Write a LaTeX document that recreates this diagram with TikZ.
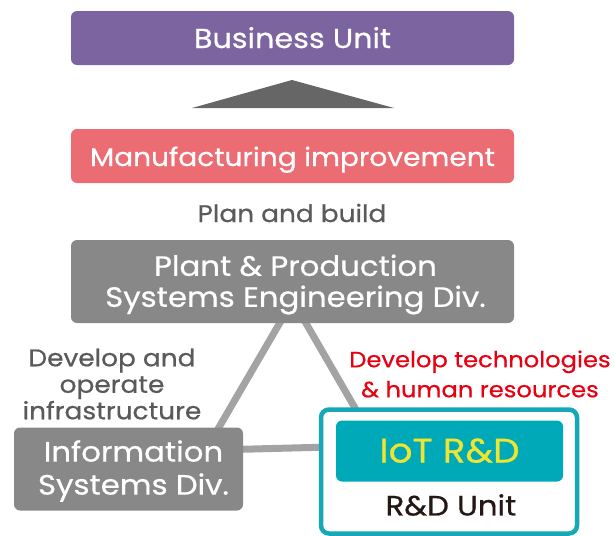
\documentclass[tikz,border=0pt]{standalone}
\usepackage{fontspec}
\setmainfont{Poppins}[FakeStretch=1.1, FakeBold=0.6]
\usetikzlibrary{calc}
\pgfdeclarelayer{bg}
\pgfsetlayers{bg,main}
\definecolor{bupurple}{HTML}{7B64A0}
\definecolor{mfpink}{HTML}{EC6C74}
\definecolor{divgray}{HTML}{888888}
\definecolor{arrgray}{HTML}{666666}
\definecolor{linegray}{HTML}{A3A3A3}
\definecolor{labgray}{HTML}{5A5A5A}
\definecolor{labred}{HTML}{E60012}
\definecolor{iotteal}{HTML}{00A9B8}
\definecolor{iotborder}{HTML}{16A8B6}
\definecolor{iotyellow}{HTML}{EDE530}
\definecolor{darktext}{HTML}{231815}
\tikzset{
  box/.style={rounded corners=6pt, inner sep=0pt, text=white, align=center},
  link/.style={draw=linegray, line width=7pt},
  lab/.style={align=center, inner sep=0pt},
}
\begin{document}
\begin{tikzpicture}[x=1pt,y=-1pt]
\useasboundingbox (0,0) rectangle (614,536);
% top boxes
\node[box, fill=bupurple, minimum width=443pt, minimum height=54pt,
  text height=20pt, text depth=0pt,
  font=\fontsize{27.5}{30}\selectfont] (bu) at (292.5,38) {Business Unit};
\fill[arrgray] (192,108) -- (292,80) -- (394,108) -- cycle;
\node[box, fill=mfpink, minimum width=443pt, minimum height=54pt,
  text height=20pt, text depth=0pt,
  font=\fontsize{25.5}{30}\selectfont] (mf) at (292.5,156) {Manufacturing improvement};
\node[lab, text=labgray, font=\fontsize{24}{25}\selectfont] (plan) at (292,213) {Plan and build};
% plant
\node[box, fill=divgray, minimum width=443pt, minimum height=83pt] (plant) at (292.5,281.5) {};
\node[lab, text=white, font=\fontsize{28}{31}\selectfont] (planttxt) at ($(plant.center)+(3,3)$)
  {Plant \& Production\\Systems Engineering Div.};
% info
\node[box, fill=divgray, minimum width=229pt, minimum height=83pt] (info) at (128.5,469) {};
\node[lab, text=white, font=\fontsize{28}{33}\selectfont] (infotxt) at ($(info.center)+(5,2)$)
  {Information\\Systems Div.};
% IoT
\node[rounded corners=8pt, draw=iotborder, line width=4.5pt, fill=white,
  minimum width=256pt, minimum height=124pt, inner sep=0pt] (rd) at (449,471.5) {};
\node[box, fill=iotteal, minimum width=227pt, minimum height=61pt, text=iotyellow,
  text height=23pt, text depth=0pt,
  font=\fontsize{34}{36}\selectfont] (iot) at (449.5,451) {IoT R\&D};
\node[lab, text=darktext, font=\fontsize{28}{28}\selectfont] (rdu) at (451,505) {R\&D Unit};
% labels
\node[lab, text=labgray, font=\fontsize{24}{26.5}\selectfont] (devinf) at (112,384)
  {Develop and\\operate\\infrastructure};
\node[lab, text=labred, font=\fontsize{22}{30}\selectfont] (devtech) at (480,374)
  {Develop technologies\\\& human resources};
% connectors
\coordinate (pl) at ($(plant.south west)+(210,-2)$);
\coordinate (pr) at ($(plant.south west)+(234,-2)$);
\coordinate (it) at ($(info.north west)+(204,2)$);
\coordinate (ir) at ($(info.north east)+(-2,22)$);
\coordinate (rt) at ($(rd.north west)+(37,2)$);
\coordinate (rl) at ($(rd.north west)+(2,40)$);
\begin{pgfonlayer}{bg}
\draw[link] (pl) -- (it);
\draw[link] (pr) -- (rt);
\draw[link] (ir) -- (rl);
\end{pgfonlayer}
\end{tikzpicture}
\end{document}
